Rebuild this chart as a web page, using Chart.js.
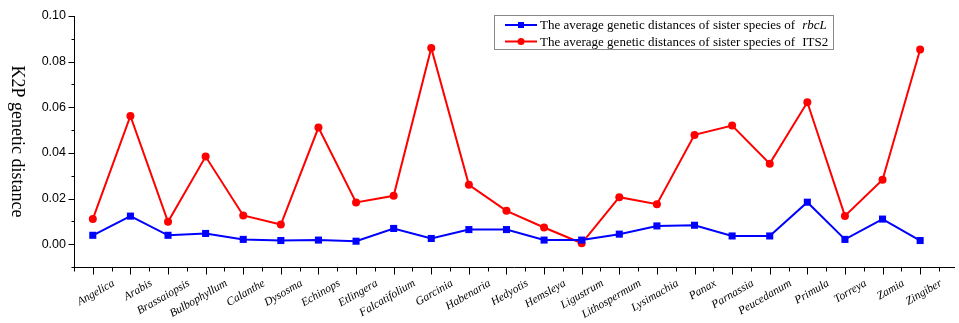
<!DOCTYPE html>
<html>
<head>
<meta charset="utf-8">
<script src="https://cdn.jsdelivr.net/npm/chart.js@4"></script>
<style>
  html, body { margin: 0; padding: 0; background: #fff; }
  #wrap { width: 959px; height: 323px; position: relative; }
</style>
</head>
<body>
<div id="wrap"><canvas id="chart"></canvas></div>
<script>
// 属名（横轴类别）
const genera = ['Angelica', 'Arabis', 'Brassaiopsis', 'Bulbophyllum', 'Calanthe', 'Dysosma',
  'Echinops', 'Etlingera', 'Falcatifolium', 'Garcinia', 'Habenaria', 'Hedyotis', 'Hemsleya',
  'Ligustrum', 'Lithospermum', 'Lysimachia', 'Panax', 'Parnassia', 'Peucedanum', 'Primula',
  'Torreya', 'Zamia', 'Zingiber'];

// rbcL 姐妹种平均遗传距离
const rbcL = [0.0039, 0.0123, 0.0039, 0.0047, 0.0021, 0.0016, 0.0018, 0.0013, 0.0069, 0.0025,
  0.0064, 0.0064, 0.0018, 0.0018, 0.0044, 0.0080, 0.0083, 0.0036, 0.0036, 0.0184, 0.0021,
  0.0110, 0.0016];

// ITS2 姐妹种平均遗传距离
const its2 = [0.0110, 0.0562, 0.0098, 0.0384, 0.0126, 0.0086, 0.0511, 0.0183, 0.0212, 0.0860,
  0.0260, 0.0146, 0.0073, 0.0004, 0.0206, 0.0175, 0.0479, 0.0520, 0.0353, 0.0622, 0.0124,
  0.0282, 0.0853];

// 纵轴刻度
const yTicks = [0.00, 0.02, 0.04, 0.06, 0.08, 0.10];
const yTitle = 'K2P genetic distance';

const legendLines = [
  { text: 'The average genetic distances of sister species of', tail: 'rbcL', italic: true, color: '#0000ff', style: 'rect' },
  { text: 'The average genetic distances of sister species of', tail: 'ITS2', italic: false, color: '#ff0000', style: 'circle' }
];

const toXY = (arr) => arr.map((v, i) => ({ x: i, y: v }));

// 坐标轴刻度、横轴标签、纵轴标题与图例
const decorPlugin = {
  id: 'decor',
  afterDraw(chart) {
    const ctx = chart.ctx;
    const xs = chart.scales.x;
    const ys = chart.scales.y;
    ctx.save();
    ctx.strokeStyle = '#000';
    ctx.lineWidth = 1;
    ctx.beginPath();
    // x 轴刻度
    const xb = Math.round(ys.bottom) + 0.5;
    for (let v = -0.5; v <= xs.max + 0.001; v += 0.5) {
      const px = Math.round(xs.getPixelForValue(v)) + 0.5;
      const len = Number.isInteger(v) ? 7 : 4;
      ctx.moveTo(px, xb);
      ctx.lineTo(px, xb + len);
    }
    // y 轴刻度
    const yl = Math.round(xs.left) + 0.5;
    for (let v = -0.01; v <= 0.1001; v += 0.01) {
      const py = Math.round(ys.getPixelForValue(v)) + 0.5;
      const major = Math.abs(Math.round(v * 100) % 2) === 0;
      ctx.moveTo(yl, py);
      ctx.lineTo(yl - (major ? 6 : 3), py);
    }
    ctx.stroke();

    // 横轴标签（斜体，旋转 30°）
    ctx.fillStyle = '#000';
    ctx.font = 'italic 11.5px "Liberation Serif"';
    ctx.textAlign = 'right';
    ctx.textBaseline = 'top';
    genera.forEach((name, i) => {
      const px = xs.getPixelForValue(i);
      ctx.save();
      ctx.translate(px + 18, ys.bottom + 10.5);
      ctx.rotate(-Math.PI / 6);
      ctx.fillText(name, 0, 0);
      ctx.restore();
    });

    // 纵轴标题（从上往下读）
    ctx.save();
    ctx.font = '18px "Liberation Serif"';
    ctx.textAlign = 'center';
    ctx.textBaseline = 'middle';
    ctx.translate(17, (ys.top + ys.bottom) / 2);
    ctx.rotate(Math.PI / 2);
    ctx.fillText(yTitle, 0, 0);
    ctx.restore();

    // 图例
    const bx = 494.5, by = 15.5, bw = 339, bh = 34;
    ctx.strokeStyle = '#888';
    ctx.strokeRect(bx, by, bw, bh);
    ctx.textAlign = 'left';
    legendLines.forEach((item, i) => {
      const cy = by + 9.5 + i * 16.5;
      ctx.strokeStyle = item.color;
      ctx.fillStyle = item.color;
      ctx.lineWidth = 2;
      ctx.beginPath();
      ctx.moveTo(505, cy);
      ctx.lineTo(537, cy);
      ctx.stroke();
      if (item.style === 'rect') {
        ctx.fillRect(518, cy - 3, 6, 6);
      } else {
        ctx.beginPath();
        ctx.arc(521, cy, 3.5, 0, Math.PI * 2);
        ctx.fill();
      }
      ctx.fillStyle = '#000';
      ctx.textBaseline = 'middle';
      ctx.font = '13px "Liberation Serif"';
      ctx.fillText(item.text, 540, cy + 1);
      const w = ctx.measureText(item.text).width;
      ctx.font = (item.italic ? 'italic ' : '') + '13px "Liberation Serif"';
      ctx.fillText(item.tail, 540 + w + 7, cy + 1);
    });
    ctx.restore();
  }
};

new Chart(document.getElementById('chart'), {
  type: 'line',
  data: {
    datasets: [
      {
        label: 'rbcL',
        data: toXY(rbcL),
        borderColor: '#0000ff',
        backgroundColor: '#0000ff',
        borderWidth: 2,
        pointStyle: 'rect',
        pointRadius: 5,
        pointBorderWidth: 0,
        tension: 0
      },
      {
        label: 'ITS2',
        data: toXY(its2),
        borderColor: '#ff0000',
        backgroundColor: '#ff0000',
        borderWidth: 2,
        pointStyle: 'circle',
        pointRadius: 4,
        pointBorderWidth: 0,
        tension: 0
      }
    ]
  },
  options: {
    responsive: true,
    maintainAspectRatio: false,
    animation: false,
    layout: { padding: { top: 16, right: 0, left: 0, bottom: 0 } },
    plugins: {
      legend: { display: false },
      tooltip: { enabled: false }
    },
    scales: {
      x: {
        type: 'linear',
        min: -0.5,
        max: 22.9,
        grid: { display: false },
        border: { display: true, color: '#000', width: 1 },
        afterBuildTicks(scale) {
          scale.ticks = genera.map((_, i) => ({ value: i }));
        },
        afterFit(scale) { scale.height = 56; },
        ticks: { display: false }
      },
      y: {
        min: -0.01,
        max: 0.10,
        grid: { display: false },
        border: { display: true, color: '#000', width: 1 },
        afterBuildTicks(scale) {
          scale.ticks = yTicks.map(v => ({ value: v }));
        },
        afterFit(scale) { scale.width = 74; },
        ticks: {
          padding: 0,
          color: '#000',
          font: { family: 'Liberation Sans', size: 12.5 },
          callback: (v) => v.toFixed(2)
        }
      }
    }
  },
  plugins: [decorPlugin]
});
</script>
</body>
</html>
